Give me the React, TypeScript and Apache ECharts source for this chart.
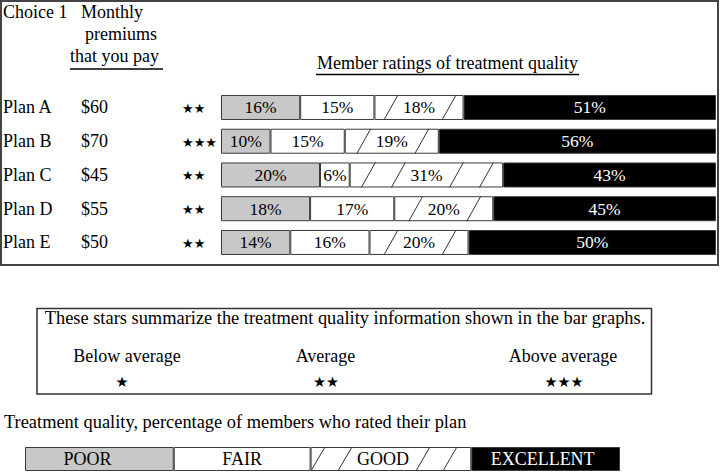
import React, { useEffect, useRef } from "react";
import * as echarts from "echarts";

const plans = ["Plan A", "Plan B", "Plan C", "Plan D", "Plan E"];
const premiums = ["$60", "$70", "$45", "$55", "$50"];
const planStars = ["★★", "★★★", "★★", "★★", "★★"];
const poor = [16, 10, 20, 18, 14];
const fair = [15, 15, 6, 17, 16];
const good = [18, 19, 31, 20, 20];
const excellent = [51, 56, 43, 45, 50];
const ratingNames = ["POOR", "FAIR", "GOOD", "EXCELLENT"];
const keyShares = [25, 23, 27, 25];
const summaryLevels = ["Below average", "Average", "Above average"];
const summaryStars = ["★", "★★", "★★★"];

const SERIF = "'Liberation Serif', 'Times New Roman', Times, serif";
const STARFONT = "DejaVu Sans";
const GRAY = "#c8c8c8";
const EDGE = "#3a3a3a";

let measureCtx: CanvasRenderingContext2D | null = null;
function measure(text: string, size: number): number {
  if (!measureCtx) measureCtx = document.createElement("canvas").getContext("2d");
  if (!measureCtx) return text.length * size * 0.5;
  measureCtx.font = `${size}px "Liberation Serif"`;
  return measureCtx.measureText(text).width;
}

function slashRender(labelOf: (i: number) => string, fontSize: number, barH: number, spacing: number, textOffset: number) {
  return (params: any, api: any) => {
    const cat = api.value(0);
    const s = api.coord([api.value(1), cat]);
    const e = api.coord([api.value(2), cat]);
    const yc = s[1];
    const tw = measure(labelOf(params.dataIndex), fontSize);
    const cx = (s[0] + e[0]) / 2 + textOffset;
    const tl = cx - tw / 2;
    const tr = cx + tw / 2;
    const half = 7;
    const mids: number[] = [];
    for (let m = tl - 12; m - half >= s[0] - 1; m -= spacing) mids.push(m);
    for (let m = tr + 14; m + half <= e[0] + 1; m += spacing) mids.push(m);
    return {
      type: "group",
      children: mids.map((m) => ({
        type: "line",
        shape: { x1: m - half, y1: yc + barH / 2, x2: m + half, y2: yc - barH / 2 },
        style: { stroke: "#333", lineWidth: 1 },
      })),
    };
  };
}

export default function App() {
  const ref = useRef<HTMLDivElement>(null);

  useEffect(() => {
    if (!ref.current) return;
    const chart = echarts.init(ref.current, undefined, { renderer: "svg" });

    const planSeriesData = [poor, fair, good, excellent];
    const fills = [GRAY, "#ffffff", "#ffffff", "#000000"];
    const textColors = ["#000", "#000", "#000", "#fff"];
    const keyOffsets = [-12, 0, -8, -3];

    const planBars = planSeriesData.map((arr, k) => ({
      type: "bar",
      name: ratingNames[k],
      stack: "plan",
      xAxisIndex: 0,
      yAxisIndex: 0,
      barWidth: 25,
      data: arr,
      itemStyle: { color: fills[k], borderColor: EDGE, borderWidth: 1 },
      label: {
        show: true,
        position: "inside",
        formatter: "{c}%",
        color: textColors[k],
        fontFamily: "Liberation Serif",
        fontSize: 17.5,
      },
      emphasis: { disabled: true },
    }));

    const keyBars = ratingNames.map((nm, k) => ({
      type: "bar",
      name: "key-" + nm,
      stack: "key",
      xAxisIndex: 1,
      yAxisIndex: 1,
      barWidth: 24,
      data: [keyShares[k]],
      itemStyle: { color: fills[k], borderColor: EDGE, borderWidth: 1 },
      label: {
        show: true,
        position: "inside",
        formatter: nm,
        offset: [keyOffsets[k], 0],
        color: textColors[k],
        fontFamily: "Liberation Serif",
        fontSize: 18,
      },
      emphasis: { disabled: true },
    }));

    const goodSpans = plans.map((_, i) => [i, poor[i] + fair[i], poor[i] + fair[i] + good[i]]);
    const keyGoodStart = keyShares[0] + keyShares[1];
    const keyGoodSpan = [[0, keyGoodStart, keyGoodStart + keyShares[2]]];

    const summaryX = [127, 325.5, 563];
    const summaryStarX = [122, 326, 564];

    const graphics: any[] = [
      { type: "rect", shape: { x: 1, y: 1, width: 717, height: 264 }, style: { fill: "none", stroke: "#444", lineWidth: 2 }, silent: true },
      { type: "text", x: 3, y: 12, style: { text: "Choice 1", font: `18px ${SERIF}`, fill: "#000", textVerticalAlign: "middle" } },
      { type: "text", x: 81, y: 12, style: { text: "Monthly", font: `18px ${SERIF}`, fill: "#000", textVerticalAlign: "middle" } },
      { type: "text", x: 85, y: 33.5, style: { text: "premiums", font: `18px ${SERIF}`, fill: "#000", textVerticalAlign: "middle" } },
      { type: "text", x: 70, y: 55.5, style: { text: "that you pay", font: `18px ${SERIF}`, fill: "#000", textVerticalAlign: "middle" } },
      { type: "line", shape: { x1: 70, y1: 69, x2: 163, y2: 69 }, style: { stroke: "#000", lineWidth: 1.3 } },
      { type: "text", x: 317, y: 62.5, style: { text: "Member ratings of treatment quality", font: `18px ${SERIF}`, fill: "#000", textVerticalAlign: "middle" } },
      { type: "line", shape: { x1: 316, y1: 74.5, x2: 579, y2: 74.5 }, style: { stroke: "#000", lineWidth: 1.3 } },
      { type: "rect", shape: { x: 37, y: 308.5, width: 614.5, height: 85.5 }, style: { fill: "none", stroke: "#333", lineWidth: 1.5 } },
      { type: "text", x: 345, y: 318, style: { text: "These stars summarize the treatment quality information shown in the bar graphs.", font: `18.4px ${SERIF}`, fill: "#000", textAlign: "center", textVerticalAlign: "middle" } },
      { type: "text", x: 4, y: 421.5, style: { text: "Treatment quality, percentage of members who rated their plan", font: `18.4px ${SERIF}`, fill: "#000", textVerticalAlign: "middle" } },
    ];
    summaryLevels.forEach((lv, i) => {
      graphics.push({ type: "text", x: summaryX[i], y: 356, style: { text: lv, font: `18px ${SERIF}`, fill: "#000", textAlign: "center", textVerticalAlign: "middle" } });
      graphics.push({
        type: "text",
        x: summaryStarX[i],
        y: 382,
        style: { text: summaryStars[i], font: `14.5px ${STARFONT}`, fill: "#000", textAlign: "center", textVerticalAlign: "middle" },
      });
    });

    chart.setOption({
      animation: false,
      backgroundColor: "#ffffff",
      grid: [
        { left: 221, top: 90.6, width: 495, height: 168.75 },
        { left: 25, top: 447, width: 595, height: 24 },
      ],
      xAxis: [
        { type: "value", gridIndex: 0, min: 0, max: 100, show: false },
        { type: "value", gridIndex: 1, min: 0, max: 100, show: false },
      ],
      yAxis: [
        {
          type: "category",
          gridIndex: 0,
          inverse: true,
          data: plans,
          axisLine: { show: false },
          axisTick: { show: false },
          splitLine: { show: false },
          axisLabel: {
            margin: 2,
            formatter: (_v: string, idx: number) => `{p|${plans[idx]}}{m|${premiums[idx]}}{s|${planStars[idx]}}`,
            rich: {
              p: { width: 78, align: "left", fontFamily: "Liberation Serif", fontSize: 18, color: "#000" },
              m: { width: 101, align: "left", fontFamily: "Liberation Serif", fontSize: 18, color: "#000" },
              s: { width: 37, align: "left", fontFamily: STARFONT, fontSize: 13, color: "#000", padding: [2, 0, 0, 0] },
            },
          },
        },
        {
          type: "category",
          gridIndex: 1,
          data: ["key"],
          show: false,
        },
      ],
      graphic: graphics,
      series: [
        ...planBars,
        {
          type: "custom",
          name: "good-hatch",
          xAxisIndex: 0,
          yAxisIndex: 0,
          z: 5,
          silent: true,
          clip: false,
          encode: { x: [1, 2], y: 0 },
          data: goodSpans,
          renderItem: slashRender((i) => `${good[i]}%`, 17.5, 25, 30, 0),
        },
        ...keyBars,
        {
          type: "custom",
          name: "key-hatch",
          xAxisIndex: 1,
          yAxisIndex: 1,
          z: 5,
          silent: true,
          clip: false,
          encode: { x: [1, 2], y: 0 },
          data: keyGoodSpan,
          renderItem: slashRender(() => ratingNames[2], 18, 24, 27, keyOffsets[2]),
        },
      ],
    });

    return () => chart.dispose();
  }, []);

  return (
    <div
      ref={ref}
      style={{ position: "fixed", left: 0, top: 0, width: 720, height: 472, background: "#fff" }}
    />
  );
}
